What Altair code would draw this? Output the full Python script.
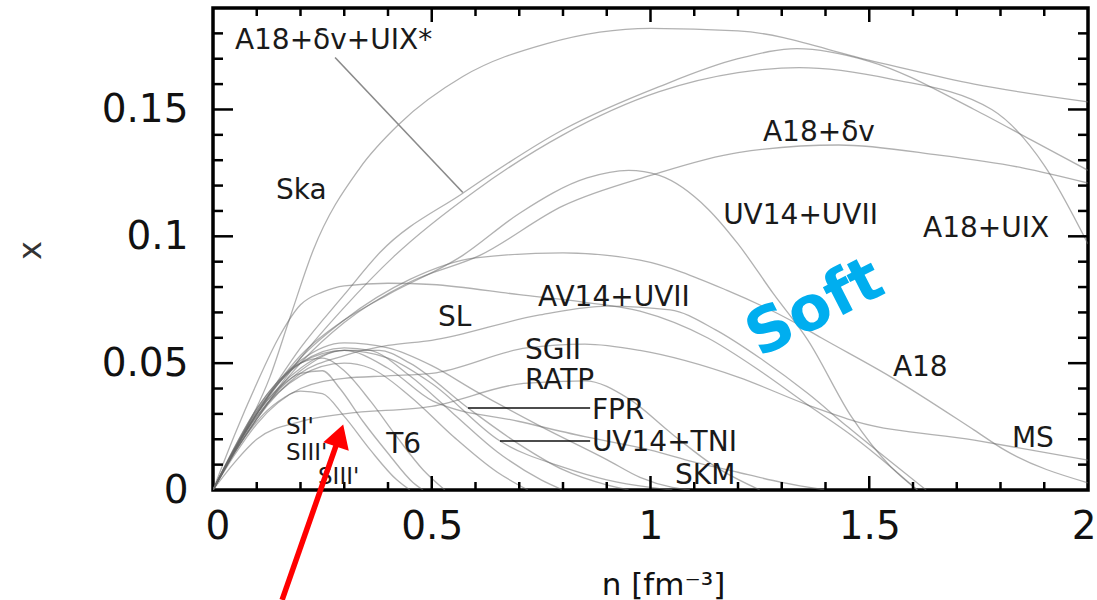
import altair as alt
import pandas as pd

# Proton fraction x(n) in beta-equilibrated matter for a set of nuclear EOS.
# Each curve: baryon density n [fm^-3] and proton fraction x.
ska_n = [0, 0.06, 0.13, 0.176, 0.229, 0.336, 0.427, 0.571, 0.763, 1.0, 1.2, 1.51, 1.74, 2.0]
ska_x = [0, 0.019, 0.0445, 0.068, 0.0945, 0.127, 0.1445, 0.163, 0.176, 0.182, 0.181, 0.169, 0.160, 0.153]

a18dvuix_n = [0, 0.05, 0.1, 0.2, 0.3, 0.382, 0.571, 0.8, 1.02, 1.2, 1.335, 1.5, 1.74, 1.87, 2.0]
a18dvuix_x = [0, 0.016, 0.03, 0.056, 0.077, 0.0937, 0.117, 0.142, 0.159, 0.170, 0.174, 0.169, 0.150, 0.138, 0.126]

a18uix_n = [0, 0.05, 0.1, 0.2, 0.3, 0.413, 0.6, 0.8, 1.02, 1.2, 1.34, 1.55, 1.78, 1.9, 2.0]
a18uix_x = [0, 0.015, 0.028, 0.052, 0.072, 0.092, 0.118, 0.140, 0.157, 0.1645, 0.1665, 0.162, 0.150, 0.128, 0.097]

a18dv_n = [0, 0.05, 0.1, 0.2, 0.3, 0.45, 0.61, 0.8, 1.0, 1.2, 1.43, 1.66, 1.85, 2.0]
a18dv_x = [0, 0.015, 0.028, 0.05, 0.066, 0.082, 0.0925, 0.112, 0.124, 0.133, 0.136, 0.132, 0.127, 0.121]

uv14uvii_n = [0, 0.05, 0.1, 0.2, 0.3, 0.4, 0.571, 0.7, 0.855, 0.95, 1.02, 1.13, 1.2, 1.28, 1.36, 1.46, 1.55, 1.61]
uv14uvii_x = [0, 0.016, 0.03, 0.053, 0.067, 0.077, 0.0925, 0.109, 0.123, 0.126, 0.124, 0.111, 0.097, 0.0776, 0.059, 0.0287, 0.009, 0.0]

a18_n = [0, 0.05, 0.1, 0.2, 0.3, 0.45, 0.6, 0.8, 0.976, 1.175, 1.32, 1.39, 1.55, 1.74, 1.81, 2.0]
a18_x = [0, 0.016, 0.03, 0.052, 0.067, 0.083, 0.0915, 0.0935, 0.0906, 0.0787, 0.0669, 0.060, 0.0445, 0.0236, 0.0157, 0.0028]

sl_n = [0, 0.05, 0.1, 0.15, 0.2, 0.25, 0.3, 0.4, 0.5, 0.7, 0.85, 0.976, 1.13, 1.25, 1.36, 1.46, 1.55, 1.61]
sl_x = [0, 0.022, 0.042, 0.06, 0.073, 0.078, 0.0805, 0.0815, 0.081, 0.077, 0.074, 0.0705, 0.060, 0.047, 0.0335, 0.0215, 0.009, 0.0]

av14uvii_n = [0, 0.05, 0.1, 0.2, 0.3, 0.4, 0.5, 0.747, 0.9, 1.045, 1.15, 1.25, 1.36, 1.45, 1.55, 1.63]
av14uvii_x = [0, 0.015, 0.028, 0.046, 0.053, 0.057, 0.059, 0.069, 0.0725, 0.071, 0.063, 0.052, 0.038, 0.025, 0.011, 0.0]

ms_n = [0, 0.05, 0.1, 0.2, 0.3, 0.4, 0.5, 0.717, 0.85, 0.976, 1.2, 1.36, 1.47, 1.74, 2.0]
ms_x = [0, 0.014, 0.026, 0.04, 0.044, 0.045, 0.046, 0.056, 0.0575, 0.055, 0.0445, 0.0335, 0.027, 0.0197, 0.0118]

ratp_n = [0, 0.05, 0.1, 0.2, 0.3, 0.5, 0.71, 0.85, 0.95, 1.05, 1.15, 1.25]
ratp_x = [0, 0.011, 0.02, 0.027, 0.03, 0.033, 0.042, 0.043, 0.036, 0.022, 0.009, 0.0]

sgii_n = [0, 0.1, 0.2, 0.3, 0.4, 0.503, 0.7, 0.85, 1.0, 1.1, 1.2, 1.3, 1.4]
sgii_x = [0, 0.031, 0.05, 0.055, 0.048, 0.035, 0.027, 0.021, 0.0157, 0.011, 0.007, 0.003, 0.0]

skm_n = [0, 0.1, 0.2, 0.3, 0.4, 0.5, 0.6, 0.75, 0.9, 0.976, 1.05, 1.09]
skm_x = [0, 0.032, 0.051, 0.058, 0.056, 0.049, 0.039, 0.025, 0.012, 0.005, 0.001, 0.0]

fpr_n = [0, 0.1, 0.2, 0.3, 0.38, 0.45, 0.583, 0.7, 0.8, 0.9, 0.95]
fpr_x = [0, 0.029, 0.047, 0.055, 0.055, 0.05, 0.0323, 0.018, 0.008, 0.002, 0.0]

uv14tni_n = [0, 0.1, 0.2, 0.3, 0.4, 0.5, 0.656, 0.8, 0.9, 1.0, 1.05]
uv14tni_x = [0, 0.03, 0.048, 0.055, 0.052, 0.042, 0.0193, 0.009, 0.004, 0.001, 0.0]

gs_n = [0, 0.1, 0.2, 0.3, 0.36, 0.45, 0.55, 0.65, 0.75, 0.8]
gs_x = [0, 0.031, 0.05, 0.056, 0.055, 0.045, 0.030, 0.015, 0.004, 0.0]

t6_n = [0, 0.05, 0.1, 0.2, 0.3, 0.36, 0.45, 0.55, 0.65, 0.72]
t6_x = [0, 0.016, 0.029, 0.045, 0.05, 0.048, 0.037, 0.021, 0.007, 0.0]

si_n = [0, 0.05, 0.1, 0.15, 0.2, 0.25, 0.3, 0.36, 0.42, 0.48, 0.53]
si_x = [0, 0.017, 0.032, 0.043, 0.05, 0.052, 0.047, 0.035, 0.021, 0.008, 0.0]

sii_n = [0, 0.05, 0.1, 0.15, 0.2, 0.25, 0.29, 0.343, 0.40, 0.457, 0.48]
sii_x = [0, 0.016, 0.03, 0.04, 0.046, 0.047, 0.040, 0.027, 0.0145, 0.003, 0.0]

siii_n = [0, 0.05, 0.1, 0.15, 0.2, 0.25, 0.3, 0.36, 0.42, 0.45]
siii_x = [0, 0.015, 0.027, 0.035, 0.039, 0.038, 0.029, 0.0157, 0.004, 0.0]

curves = {
    "Ska": (ska_n, ska_x),
    "A18+dv+UIX*": (a18dvuix_n, a18dvuix_x),
    "A18+UIX": (a18uix_n, a18uix_x),
    "A18+dv": (a18dv_n, a18dv_x),
    "UV14+UVII": (uv14uvii_n, uv14uvii_x),
    "A18": (a18_n, a18_x),
    "SL": (sl_n, sl_x),
    "AV14+UVII": (av14uvii_n, av14uvii_x),
    "MS": (ms_n, ms_x),
    "RATP": (ratp_n, ratp_x),
    "SGII": (sgii_n, sgii_x),
    "SKM": (skm_n, skm_x),
    "FPR": (fpr_n, fpr_x),
    "UV14+TNI": (uv14tni_n, uv14tni_x),
    "Gs": (gs_n, gs_x),
    "T6": (t6_n, t6_x),
    "SI'": (si_n, si_x),
    "SII'": (sii_n, sii_x),
    "SIII'": (siii_n, siii_x),
}

rows = []
for name, (ns, xs_) in curves.items():
    for i, (n, x) in enumerate(zip(ns, xs_)):
        rows.append({"eos": name, "i": i, "n": n, "x": x})
lines_df = pd.DataFrame(rows)

# Curve labels (left edge, vertical centre) in data units
label_text = ["A18+\u03b4v+UIX*", "Ska", "A18+\u03b4v", "UV14+UVII", "A18+UIX", "AV14+UVII",
              "SL", "SGII", "RATP", "FPR", "UV14+TNI", "SKM", "A18", "MS", "T6"]
label_n = [0.050, 0.144, 1.257, 1.166, 1.623, 0.743, 0.514, 0.713, 0.713, 0.866, 0.866,
           1.056, 1.554, 1.826, 0.396]
label_x = [0.1768, 0.1177, 0.1406, 0.1079, 0.1028, 0.0756, 0.0677, 0.0547, 0.0429, 0.0311,
           0.0185, 0.0055, 0.048, 0.020, 0.0177]
labels_df = pd.DataFrame({"label": label_text, "n": label_n, "x": label_x})

# Labels for the three Skyrme curves crowded near the origin
small_text = ["SI'", "SIII'", "SIII'"]
small_n = [0.167, 0.167, 0.240]
small_x = [0.0249, 0.0146, 0.0051]
small_df = pd.DataFrame({"label": small_text, "n": small_n, "x": small_x})

# Leader lines from labels to their curves
lead_n0 = [0.279, 0.583, 0.656]
lead_x0 = [0.1705, 0.0323, 0.0193]
lead_n1 = [0.571, 0.862, 0.862]
lead_x1 = [0.1173, 0.0323, 0.0193]
lead_color = ["#8a8a8a", "#111111", "#111111"]
leaders_df = pd.DataFrame({"n0": lead_n0, "x0": lead_x0, "n1": lead_n1, "x1": lead_x1,
                           "c": lead_color})

# Axis tick values
x_major = [0.5, 1.0, 1.5]
x_minor = [0.1, 0.2, 0.3, 0.4, 0.6, 0.7, 0.8, 0.9, 1.1, 1.2, 1.3, 1.4, 1.6, 1.7, 1.8, 1.9]
y_major = [0.05, 0.1, 0.15]
y_minor = [0.01, 0.02, 0.03, 0.04, 0.06, 0.07, 0.08, 0.09, 0.11, 0.12, 0.13, 0.14,
           0.16, 0.17, 0.18]
x_tick_labels = [0, 0.5, 1, 1.5, 2]
y_tick_labels = [0, 0.05, 0.1, 0.15]

# Red arrow: tail and head (in data units)
arrow_tail = (0.158, -0.0433)
arrow_head = (0.2894, 0.0215)

W, H = 875, 482
FONT = "DejaVu Sans"
xs = alt.Scale(domain=[0, 2], nice=False, zero=False)
ys = alt.Scale(domain=[0, 0.19], nice=False)

x_axis = alt.Axis(
    values=x_tick_labels, format="~g", labelFont=FONT, labelFontSize=39,
    labelColor="#111", labelFlush=True, labelFlushOffset=8, labelOverlap=False,
    labelPadding=17, ticks=False, domain=False, grid=False,
    title="n [fm\u207b\u00b3]", titleFont=FONT, titleFontSize=31,
    titleFontWeight="normal", titleColor="#111", titleX=450, titleY=104,
    titleBaseline="alphabetic")
y_axis = alt.Axis(
    values=y_tick_labels, format="~g", labelFont=FONT, labelFontSize=39,
    labelColor="#111", labelFlush=False, labelOverlap=False, labelPadding=25,
    ticks=False, domain=False, grid=False,
    title="x", titleFont=FONT, titleFontSize=32, titleFontWeight="normal",
    titleColor="#333", titleX=-183, titleY=242, titleBaseline="middle")


def X(field):
    return alt.X(field, scale=xs, axis=x_axis)


def Y(field):
    return alt.Y(field, scale=ys, axis=y_axis)


lines = alt.Chart(lines_df).mark_line(
    interpolate="monotone", stroke="#6a6a6a", strokeWidth=1.3, opacity=0.52, clip=True
).encode(x=X("n:Q"), y=Y("x:Q"), detail="eos:N", order="i:Q")


def xticks(vals, y0, y1):
    return alt.Chart(pd.DataFrame({"n": vals})).mark_rule(color="black", strokeWidth=2.5).encode(
        x=X("n:Q"), y=alt.value(y0), y2=alt.value(y1))


def yticks(vals, x0, x1):
    return alt.Chart(pd.DataFrame({"x": vals})).mark_rule(color="black", strokeWidth=2.5).encode(
        y=Y("x:Q"), x=alt.value(x0), x2=alt.value(x1))


ticks = [
    xticks(x_major, H, H - 14), xticks(x_minor, H, H - 8),
    xticks(x_major, 0, 14), xticks(x_minor, 0, 8),
    yticks(y_major, 0, 20), yticks(y_minor, 0, 10),
    yticks(y_major, W, W - 20), yticks(y_minor, W, W - 10),
]

leaders = alt.Chart(leaders_df).mark_rule(strokeWidth=1.6).encode(
    x=X("n0:Q"), y=Y("x0:Q"), x2="n1:Q", y2="x1:Q",
    color=alt.Color("c:N", scale=None))

texts = alt.Chart(labels_df).mark_text(
    align="left", baseline="middle", font=FONT, fontSize=28, color="#1a1a1a"
).encode(x=X("n:Q"), y=Y("x:Q"), text="label:N")

small_texts = alt.Chart(small_df).mark_text(
    align="left", baseline="middle", font=FONT, fontSize=23, color="#1a1a1a"
).encode(x=X("n:Q"), y=Y("x:Q"), text="label:N")

soft = alt.Chart(pd.DataFrame({"n": [1.376], "x": [0.0717], "t": ["Soft"]})).mark_text(
    align="center", baseline="middle", font=FONT, fontSize=62, fontWeight="bold",
    color="#00AEEF", angle=333
).encode(x=X("n:Q"), y=Y("x:Q"), text="t:N")

arrow_df = pd.DataFrame({"n0": [arrow_tail[0]], "x0": [arrow_tail[1]],
                         "n1": [arrow_head[0]], "x1": [arrow_head[1]]})
arrow_line = alt.Chart(arrow_df).mark_rule(color="#ff0000", strokeWidth=5.5, clip=False).encode(
    x=X("n0:Q"), y=Y("x0:Q"), x2="n1:Q", y2="x1:Q")
arrow_tip = alt.Chart(arrow_df).mark_point(
    shape="triangle-up", filled=True, size=720, angle=18, color="#ff0000", opacity=1
).encode(x=X("n1:Q"), y=Y("x1:Q"))

chart = alt.layer(lines, *ticks, leaders, texts, small_texts, soft, arrow_line, arrow_tip).properties(
    width=W, height=H,
    padding={"left": 213, "top": 8, "right": 9, "bottom": 110},
    autosize=alt.AutoSizeParams(type="none"),
    background="white",
).configure_view(stroke="black", strokeWidth=3.5)

chart.save("out.html", embed_options={"renderer": "svg", "actions": False})
